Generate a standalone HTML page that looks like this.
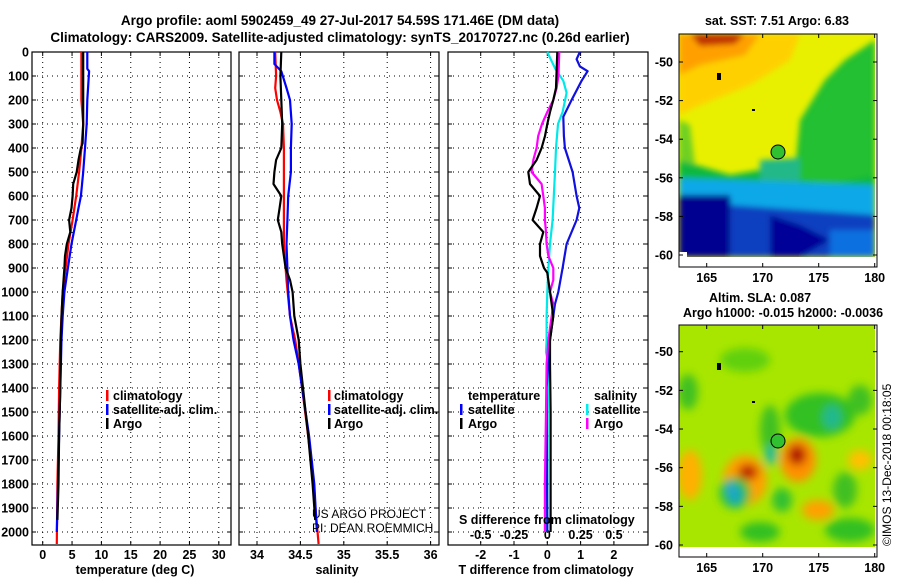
<!DOCTYPE html>
<html><head><meta charset="utf-8">
<style>
html,body{margin:0;padding:0;background:#fff;}
svg{display:block;font-family:"Liberation Sans",Arial,sans-serif;}
.b{font-weight:bold;font-size:12.5px;fill:#000;}
.t{font-weight:bold;font-size:13.5px;fill:#000;}
</style></head>
<body>
<svg id="fig" width="900" height="580" viewBox="0 0 900 580" xmlns="http://www.w3.org/2000/svg">
<defs>
 <filter id="bl" x="-10%" y="-10%" width="120%" height="120%"><feGaussianBlur stdDeviation="3"/></filter>
 <filter id="bl2" x="-10%" y="-10%" width="120%" height="120%"><feGaussianBlur stdDeviation="4.5"/></filter>
 <clipPath id="c1"><rect x="679" y="34" width="196" height="223"/></clipPath>
 <clipPath id="c2"><rect x="679" y="325" width="196" height="222"/></clipPath>
</defs>
<text class="t" x="340" y="25" text-anchor="middle">Argo profile: aoml 5902459_49 27-Jul-2017 54.59S 171.46E (DM data)</text>
<text class="t" x="340" y="42" text-anchor="middle">Climatology: CARS2009. Satellite-adjusted climatology: synTS_20170727.nc (0.26d earlier)</text>

<g id="grids"></g>
<g id="series"></g>

<g>
 <rect x="106" y="390" width="2.5" height="11" fill="#f00"/><text class="b" x="113" y="400">climatology</text>
 <rect x="106" y="404" width="2.5" height="11" fill="#00f"/><text class="b" x="113" y="414">satellite-adj. clim.</text>
 <rect x="106" y="418" width="2.5" height="11" fill="#000"/><text class="b" x="113" y="428">Argo</text>
</g>
<g>
 <rect x="328" y="390" width="2.5" height="11" fill="#f00"/><text class="b" x="334" y="400">climatology</text>
 <rect x="328" y="404" width="2.5" height="11" fill="#00f"/><text class="b" x="334" y="414">satellite-adj. clim.</text>
 <rect x="328" y="418" width="2.5" height="11" fill="#000"/><text class="b" x="334" y="428">Argo</text>
</g>
<g>
 <text class="b" x="468" y="400">temperature</text>
 <rect x="460" y="404" width="2.5" height="11" fill="#00f"/><text class="b" x="468" y="414">satellite</text>
 <rect x="460" y="418" width="2.5" height="11" fill="#000"/><text class="b" x="468" y="428">Argo</text>
 <text class="b" x="594" y="400">salinity</text>
 <rect x="586" y="404" width="2.5" height="11" fill="#0ee"/><text class="b" x="594" y="414">satellite</text>
 <rect x="586" y="418" width="2.5" height="11" fill="#f0f"/><text class="b" x="594" y="428">Argo</text>
</g>
<text x="312" y="518" font-size="12" fill="#000">US ARGO PROJECT</text>
<text x="312" y="532" font-size="12" fill="#000">PI: DEAN ROEMMICH</text>
<text class="b" x="459" y="524">S difference from climatology</text>

<text class="b" x="135" y="574" text-anchor="middle">temperature (deg C)</text>
<text class="b" x="337" y="574" text-anchor="middle">salinity</text>
<text class="b" x="546" y="574" text-anchor="middle">T difference from climatology</text>

<text class="b" x="777" y="25" text-anchor="middle">sat. SST: 7.51 Argo: 6.83</text>
<g clip-path="url(#c1)">
 <rect x="679" y="34" width="196" height="223" fill="#e8f000"/>
 <g filter="url(#bl)">
  <polygon points="679,34 800,34 790,60 750,85 700,105 679,115" fill="#ffd000"/>
  <polygon points="679,34 760,34 745,55 700,65 679,75" fill="#ffa000"/>
  <polygon points="690,34 745,34 735,44 700,46" fill="#c03000"/>
  <polygon points="845,60 875,40 875,235 840,210 800,200 795,170 800,120 825,80" fill="#20c030"/>
  <polygon points="679,120 690,125 695,165 679,170" fill="#70d020"/>
  <polygon points="679,160 730,175 760,170 790,160 800,180 830,185 875,175 875,205 679,205" fill="#10b840"/>
  <polygon points="760,160 800,158 800,190 760,185" fill="#20b888"/>
  <polygon points="679,178 875,185 875,215 679,212" fill="#10a8e8"/>
  <polygon points="679,195 730,195 735,257 679,257" fill="#000090"/>
  <polygon points="730,205 875,215 875,257 730,257" fill="#1040c0"/>
  <polygon points="770,215 800,225 830,240 800,257 770,257" fill="#000098"/>
  <polygon points="830,230 875,230 875,257 830,257" fill="#1070e0"/>
 </g>
 <rect x="679" y="252" width="8" height="5" fill="#fff"/>
 <rect x="717" y="73" width="4" height="7" fill="#000"/>
 <rect x="752" y="109" width="3" height="2" fill="#000"/>
</g>
<rect x="679" y="34" width="198" height="233" fill="none" stroke="#000"/>
<circle cx="778" cy="152" r="7" fill="#30c030" stroke="#000"/>

<text class="b" x="760" y="302" text-anchor="middle">Altim. SLA: 0.087</text>
<text class="b" x="783" y="317" text-anchor="middle">Argo h1000: -0.015 h2000: -0.0036</text>
<g clip-path="url(#c2)">
 <rect x="679" y="325" width="196" height="222" fill="#a8e600"/>
 <g filter="url(#bl2)">
  <ellipse cx="820" cy="415" rx="35" ry="22" fill="#30c020"/>
  <ellipse cx="832" cy="417" rx="9" ry="12" fill="#20b890"/>
  <ellipse cx="688" cy="392" rx="10" ry="18" fill="#40c020"/>
  <ellipse cx="745" cy="360" rx="25" ry="12" fill="#60d010"/>
  <ellipse cx="770" cy="430" rx="10" ry="25" fill="#40c020"/>
  <ellipse cx="771" cy="455" rx="6" ry="10" fill="#20b8a0"/>
  <ellipse cx="860" cy="400" rx="12" ry="15" fill="#40c020"/>
  <ellipse cx="690" cy="475" rx="12" ry="25" fill="#ffb000"/>
  <ellipse cx="745" cy="480" rx="22" ry="25" fill="#ffa000"/>
  <ellipse cx="748" cy="472" rx="10" ry="8" fill="#c02000"/>
  <ellipse cx="798" cy="460" rx="18" ry="22" fill="#ff9000"/>
  <ellipse cx="797" cy="455" rx="9" ry="10" fill="#b01000"/>
  <ellipse cx="818" cy="510" rx="16" ry="10" fill="#ffa000"/>
  <ellipse cx="860" cy="460" rx="12" ry="10" fill="#ffc000"/>
  <ellipse cx="735" cy="493" rx="16" ry="16" fill="#30c030"/>
  <ellipse cx="735" cy="495" rx="7" ry="10" fill="#10a8c0"/>
  <ellipse cx="730" cy="488" rx="4" ry="6" fill="#30a0e0"/>
  <ellipse cx="782" cy="500" rx="10" ry="12" fill="#30c030"/>
  <ellipse cx="760" cy="532" rx="20" ry="10" fill="#30c020"/>
  <ellipse cx="850" cy="530" rx="25" ry="12" fill="#30c020"/>
  <ellipse cx="845" cy="490" rx="12" ry="18" fill="#40c020"/>
 </g>
 <rect x="717" y="363" width="4" height="7" fill="#000"/>
 <rect x="752" y="401" width="3" height="2" fill="#000"/>
</g>
<rect x="679" y="325" width="198" height="232" fill="none" stroke="#000"/>
<circle cx="778" cy="441" r="7" fill="#30c030" stroke="#000"/>
<text x="891" y="546" font-size="12" fill="#000" transform="rotate(-90 891 546)">©IMOS 13-Dec-2018 00:18:05</text>
<g id="mapaxes"></g>
</svg>
<script>
const tArgoDepth = [0,100,300,380,400,450,500,550,600,650,700,750,800,850,900,1000,1100,1200,1400,1600,1800,1950];
const tArgo      = [6.9,6.9,6.9,6.8,6.5,6.1,5.8,5.2,5.1,4.9,4.5,4.7,4.1,3.8,3.7,3.4,3.2,3.1,3.0,2.8,2.7,2.5];
const tClimDepth = [0,200,300,400,500,600,700,800,900,1000,1100,1200,1400,1600,1800,2050];
const tClim      = [6.6,6.6,6.9,6.6,6.2,5.7,5.1,4.4,3.9,3.4,3.2,3.0,2.8,2.7,2.5,2.4];
const tSatDepth  = [0,70,80,200,300,400,500,600,650,700,800,900,1000,1100,1200,1400,1600,1800,2000];
const tSat       = [7.6,7.6,7.9,7.6,7.5,7.2,6.9,6.5,6.1,5.7,4.9,4.3,3.7,3.4,3.2,3.0,2.8,2.6,2.4];
const sArgoDepth = [0,100,200,300,400,450,500,550,600,650,700,750,800,900,950,1000,1100,1200,1300,1400,1600,1800,1950];
const sArgo      = [34.28,34.27,34.28,34.29,34.28,34.22,34.20,34.19,34.28,34.26,34.24,34.28,34.29,34.33,34.38,34.41,34.43,34.48,34.50,34.53,34.59,34.64,34.67];
const sClimDepth = [0,100,150,200,250,300,400,600,800,900,950,1100,1200,1300,1400,1600,1800,2050];
const sClim      = [34.21,34.22,34.21,34.23,34.27,34.30,34.31,34.31,34.31,34.33,34.34,34.38,34.44,34.48,34.52,34.59,34.65,34.71];
const sSatDepth  = [0,50,80,150,200,300,400,500,600,700,800,900,1000,1100,1200,1300,1400,1600,1800,2000];
const sSat       = [34.20,34.20,34.28,34.34,34.38,34.40,34.39,34.39,34.36,34.35,34.34,34.35,34.36,34.38,34.42,34.48,34.52,34.60,34.66,34.69];
const dTSatDepth = [0,30,60,80,120,200,270,350,400,500,600,650,700,800,900,1000,1050,1100,1200,1300,1400,2000];
const dTSat      = [0.98,0.88,0.98,1.21,1.03,0.73,0.48,0.50,0.53,0.76,0.88,0.96,0.88,0.58,0.46,0.33,0.23,0.18,0.08,0.03,-0.02,0.0];
const dTArgoDepth= [0,150,200,250,300,350,400,450,500,550,600,650,700,750,800,850,900,920,1000,1100,1200,1300,1500,2000];
const dTArgo     = [0.30,0.26,0.18,0.08,0.0,-0.07,-0.17,-0.32,-0.57,-0.52,-0.22,-0.32,-0.44,-0.12,-0.22,-0.22,-0.10,0.0,0.08,0.18,0.08,0.08,0.10,0.10];
const dSSatDepth = [0,70,120,170,250,300,400,500,700,800,900,1000,1100,1200,1250,1300,1500,2000];
const dSSat      = [0.0,0.06,0.12,0.145,0.115,0.08,0.065,0.058,0.04,0.02,0.008,0.0,-0.005,-0.005,-0.01,0.008,0.003,0.0];
const dSArgoDepth= [0,100,150,200,250,300,350,400,450,500,550,600,650,700,750,800,850,900,950,1000,1050,1100,1150,1200,1300,1500,1800,2000];
const dSArgo     = [0.09,0.083,0.07,0.045,0.0,-0.04,-0.068,-0.08,-0.105,-0.118,-0.043,-0.03,-0.018,-0.018,-0.01,-0.005,0.008,0.045,0.045,0.02,0.045,0.033,0.02,0.008,-0.005,-0.01,-0.018,-0.018];
const depthTicks = [0,100,200,300,400,500,600,700,800,900,1000,1100,1200,1300,1400,1500,1600,1700,1800,1900,2000];
const tTicks = [0,5,10,15,20,25,30];
const sTicks = [34,34.5,35,35.5,36];
const sTickLabels = ["34","34.5","35","35.5","36"];
const dTTicks = [-2,-1,0,1,2];
const dSTicks = [-0.5,-0.25,0,0.25,0.5];
const dSTickLabels = ["-0.5","-0.25","0","0.25","0.5"];
const latTicks = [-50,-52,-54,-56,-58,-60];
const lonTicks = [165,170,175,180];

const yD = d => 52 + d*0.24;
const xT = t => 42.7 + t*5.87;
const xS = s => 257 + (s-34)*86.8;
const xDT = t => 547.3 + t*33.3;
const xDS = s => xDT(s*4);
const lat1 = la => 62 + (-50-la)*19.3;
const lat2 = la => 351.7 + (-50-la)*19.33;
const lon = lo => 706.7 + (lo-165)*11.2;

const NS="http://www.w3.org/2000/svg";
function mk(tag, attrs, parent){const e=document.createElementNS(NS,tag);for(const k in attrs)e.setAttribute(k,attrs[k]);parent.appendChild(e);return e;}
const G=document.getElementById('grids'), S=document.getElementById('series'), M=document.getElementById('mapaxes');

const panels=[
 {name:'temperature-panel',x0:32,x1:231,ticks:tTicks,labels:tTicks.map(String),xf:xT,ly:559},
 {name:'salinity-panel',x0:239,x1:439,ticks:sTicks,labels:sTickLabels,xf:xS,ly:559},
 {name:'difference-panel',x0:448,x1:648,ticks:dTTicks,labels:dTTicks.map(String),xf:xDT,ly:559}
];
panels.forEach((p,pi)=>{
 const g=mk('g',{},G);
 
 
 depthTicks.forEach(d=>{
  const y=yD(d);
  const ln=mk('line',{x1:p.x0,x2:p.x1,y1:y,y2:y,stroke:'#000','stroke-width':1,'stroke-dasharray':'1 4'},g);
  
  
  mk('line',{x1:p.x0,x2:p.x0+4,y1:y,y2:y,stroke:'#000'},g);
  mk('line',{x1:p.x1-4,x2:p.x1,y1:y,y2:y,stroke:'#000'},g);
  if(pi===0){
   const t=mk('text',{x:29,y:y+4.5,'text-anchor':'end',class:'b'},g);
   t.textContent=d;
   
   
  }
 });
 p.ticks.forEach((v,i)=>{
  const x=p.xf(v);
  const ln=mk('line',{x1:x,x2:x,y1:52,y2:545,stroke:'#000','stroke-width':1,'stroke-dasharray':'1 4'},g);
  
  
  mk('line',{x1:x,x2:x,y1:52,y2:56,stroke:'#000'},g);
  mk('line',{x1:x,x2:x,y1:541,y2:545,stroke:'#000'},g);
  const t=mk('text',{x:x,y:p.ly,'text-anchor':'middle',class:'b'},g);
  t.textContent=p.labels[i];
  
  
 });
 const fr=mk('rect',{x:p.x0,y:52,width:p.x1-p.x0,height:493,fill:'none',stroke:'#000','stroke-width':1.2},g);
 
 
});
dSTicks.forEach((v,i)=>{
 const t=mk('text',{x:xDS(v),y:539,'text-anchor':'middle',class:'b'},G);
 t.textContent=dSTickLabels[i];
 
 
});

function line(depths, vals, xf, color, name){
 const pts=[];
 for(let i=0;i<depths.length;i++){
  pts.push(xf(vals[i]).toFixed(1)+','+yD(depths[i]).toFixed(1));
 }
 const pl=mk('polyline',{points:pts.join(' '),fill:'none',stroke:color,'stroke-width':2.2,'stroke-linejoin':'round'},S);
 
 
}
line(tClimDepth,tClim,xT,'#f00','temperature-climatology-line');
line(tSatDepth,tSat,xT,'#00f','temperature-satellite-line');
line(tArgoDepth,tArgo,xT,'#000','temperature-argo-line');
line(sClimDepth,sClim,xS,'#f00','salinity-climatology-line');
line(sSatDepth,sSat,xS,'#00f','salinity-satellite-line');
line(sArgoDepth,sArgo,xS,'#000','salinity-argo-line');
line(dSSatDepth,dSSat,xDS,'#00e8e8','s-diff-satellite-line');
line(dTSatDepth,dTSat,xDT,'#1010e0','t-diff-satellite-line');
line(dSArgoDepth,dSArgo,xDS,'#f0f','s-diff-argo-line');
line(dTArgoDepth,dTArgo,xDT,'#000','t-diff-argo-line');

[[lat1,267,34,282],[lat2,557,325,572]].forEach(([lf,yb,yt,ly])=>{
 latTicks.forEach(la=>{
  const y=lf(la);
  mk('line',{x1:873,x2:877,y1:y,y2:y,stroke:'#000'},M);
  mk('line',{x1:679,x2:683,y1:y,y2:y,stroke:'#000'},M);
  const t=mk('text',{x:673,y:y+4.5,'text-anchor':'end',class:'b'},M);
  t.textContent=la;
  
  
 });
 lonTicks.forEach(lo=>{
  const x=lon(lo);
  mk('line',{x1:x,x2:x,y1:yb-4,y2:yb,stroke:'#000'},M);
  mk('line',{x1:x,x2:x,y1:yt,y2:yt+4,stroke:'#000'},M);
  const t=mk('text',{x:x,y:ly,'text-anchor':'middle',class:'b'},M);
  t.textContent=lo;
  
  
 });
});
</script>
</body></html>
